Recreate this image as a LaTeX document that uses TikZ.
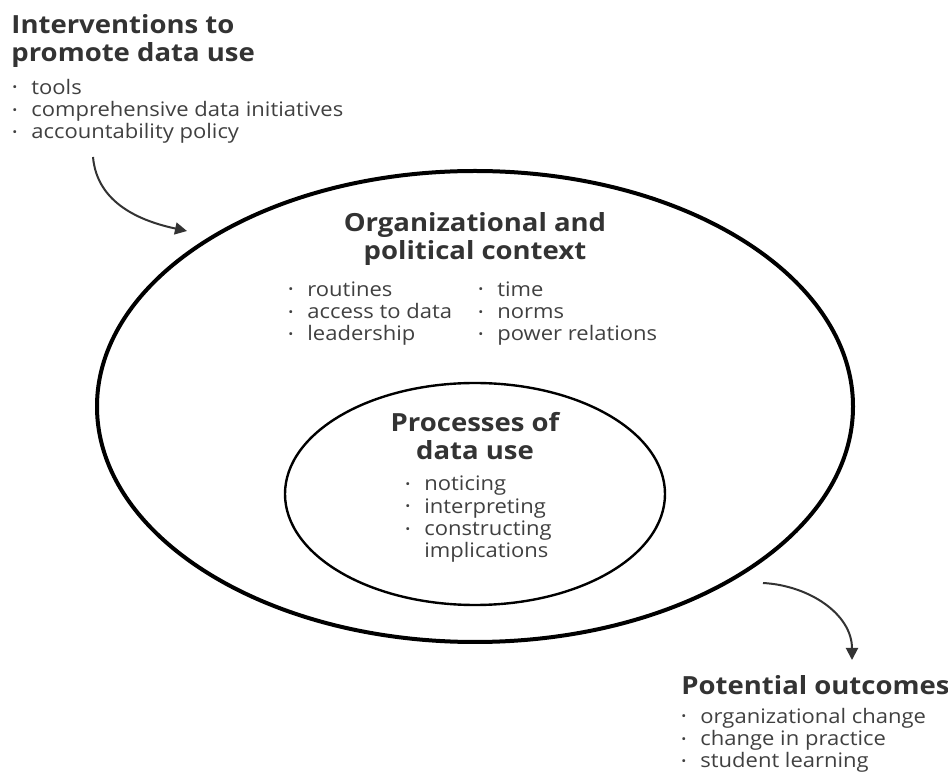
\documentclass[tikz,border=0pt]{standalone}
\usepackage{fontspec}
\setmainfont{Open Sans}[FakeStretch=1.1]
\usetikzlibrary{arrows.meta,shapes.geometric}
\newcommand{\bl}{\makebox[9.5pt][l]{\raisebox{0.12em}{\scalebox{0.6}{\textbullet}}}}

\begin{document}
\begin{tikzpicture}[x=0.5pt,y=0.5pt,
  head/.style={font=\fontsize{12.5}{14}\selectfont\bfseries,text=black!80,align=left,inner sep=0pt},
  list/.style={font=\fontsize{10}{11.2}\selectfont,text=black!75,align=left,inner sep=0pt},
  ring/.style={draw,ellipse,inner sep=0pt,outer sep=0pt},
  flow/.style={draw=black!80,line width=1pt,-{Triangle[length=6pt,width=6pt]}}]
   \useasboundingbox (0,0) rectangle (948,-774);
   \node[ring,line width=2pt,minimum width=378pt,minimum height=235.5pt] (context) at (475,-406.5) {};
   \node[ring,line width=1.2pt,minimum width=190pt,minimum height=111pt] (process) at (475,-494) {};
   \node[head,anchor=base west] (intv) at (11,-62) {Interventions to\\promote data use};
   \node[list,anchor=base west] (intvlist) at (12,-139) {\bl tools\\\bl comprehensive data initiatives\\\bl accountability policy};
   \node[head,anchor=base,align=center] (ctxhead) at (475,-260) {Organizational and\\political context};
   \node[list,anchor=base west] (ctxleft) at (288,-341) {\bl routines\\\bl access to data\\\bl leadership};
   \node[list,anchor=base west] (ctxright) at (478,-341) {\bl time\\\bl norms\\\bl power relations};
   \node[head,anchor=base,align=center] (prochead) at (475,-460) {Processes of\\data use};
   \node[list,anchor=base west] (proclist) at (405,-558) {\bl noticing\\\bl interpreting\\\bl constructing\\\hspace*{9.5pt}implications};
   \node[head,anchor=base west] (outc) at (681,-695) {Potential outcomes};
   \node[list,anchor=base west] (outclist) at (681,-768) {\bl organizational change\\\bl change in practice\\\bl student learning};
   \coordinate (in1) at (93,-157);
   \coordinate (in2) at (187,-231);
   \coordinate (out1) at (763,-583);
   \coordinate (out2) at (852,-660);
   \draw[flow] (in1) to[out=-85,in=168] (in2);
   \draw[flow] (out1) to[out=-3,in=90] (out2);
  \end{tikzpicture}
\end{document}
